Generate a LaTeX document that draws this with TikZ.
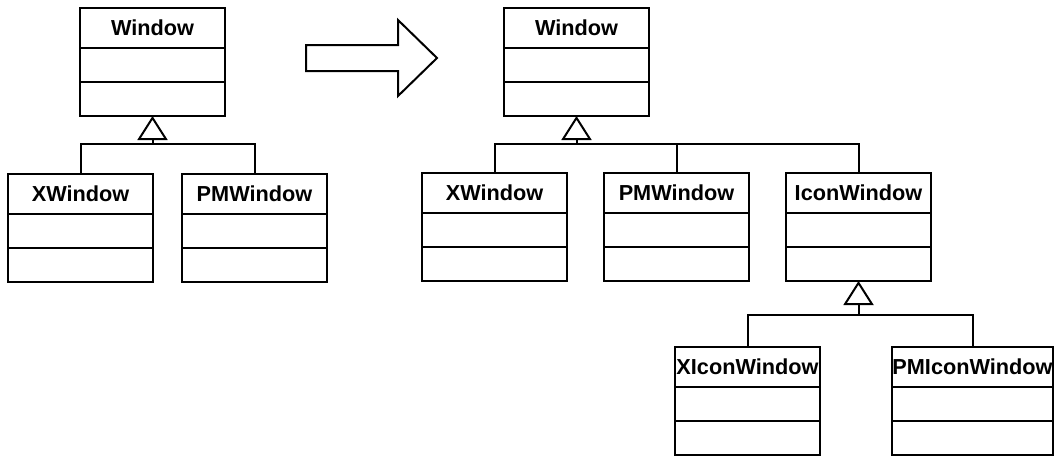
\documentclass[tikz,border=0pt]{standalone}
\usepackage{fontspec}
\setmainfont{Liberation Sans}
\usetikzlibrary{positioning,calc,arrows.meta}
\tikzset{% styles for the class boxes
  head/.style={draw, minimum width=72.5pt, minimum height=20pt, inner sep=0pt,
    outer sep=0pt, anchor=north west, font=\bfseries\fontsize{10.85}{12}\selectfont},
  part/.style={draw, minimum width=72.5pt, minimum height=17pt, inner sep=0pt, outer sep=0pt},
  inherit/.style={-{Triangle[open,length=12pt,width=15pt]}}
}
% class box: [width] name, top left corner, title
\newcommand{\umlclass}[4][72.5pt]{%
  \node [head, minimum width=#1] (#2) at (#3) {#4};
  \node [part, minimum width=#1, below=0pt of #2] (#2-a) {};
  \node [part, minimum width=#1, below=0pt of #2-a] (#2-b) {};
}

\begin{document}
\begin{tikzpicture}[x=0.5pt, y=-0.5pt, line width=1pt]
\useasboundingbox (0,0) rectangle (1055,457);

% draw first picture
\umlclass{win}{80,8}{Window}
\umlclass{xw}{8,174}{XWindow}
\umlclass{pmw}{182,174}{PMWindow}
\coordinate (j1) at ($(win-b.south)+(0,28)$);
\draw [inherit] (j1) -- (win-b.south);
\draw (xw.north) |- (j1) -| (pmw.north);

% big hollow arrow
\draw (306,45) -- (398,45) -- (398,20) -- (437,58) -- (398,96) -- (398,71) -- (306,71) -- cycle;

% draw second picture
\umlclass{wintwo}{504,8}{Window}
\umlclass{xwtwo}{422,173}{XWindow}
\umlclass{pmwtwo}{604,173}{PMWindow}
\umlclass{icw}{786,173}{IconWindow}
\coordinate (j2) at ($(wintwo-b.south)+(0,28)$);
\draw [inherit] (j2) -- (wintwo-b.south);
\draw (xwtwo.north) |- (j2) -| (icw.north);
\draw (pmwtwo.north) -- (pmwtwo.north |- j2);

% icon windows
\umlclass{xicw}{675,347}{XIconWindow}
\umlclass[80.5pt]{pmicw}{892,347}{PMIconWindow}
\coordinate (j3) at ($(icw-b.south)+(0,34)$);
\draw [inherit] (j3) -- (icw-b.south);
\draw (xicw.north) |- (j3) -| (pmicw.north);

\end{tikzpicture}
\end{document}
